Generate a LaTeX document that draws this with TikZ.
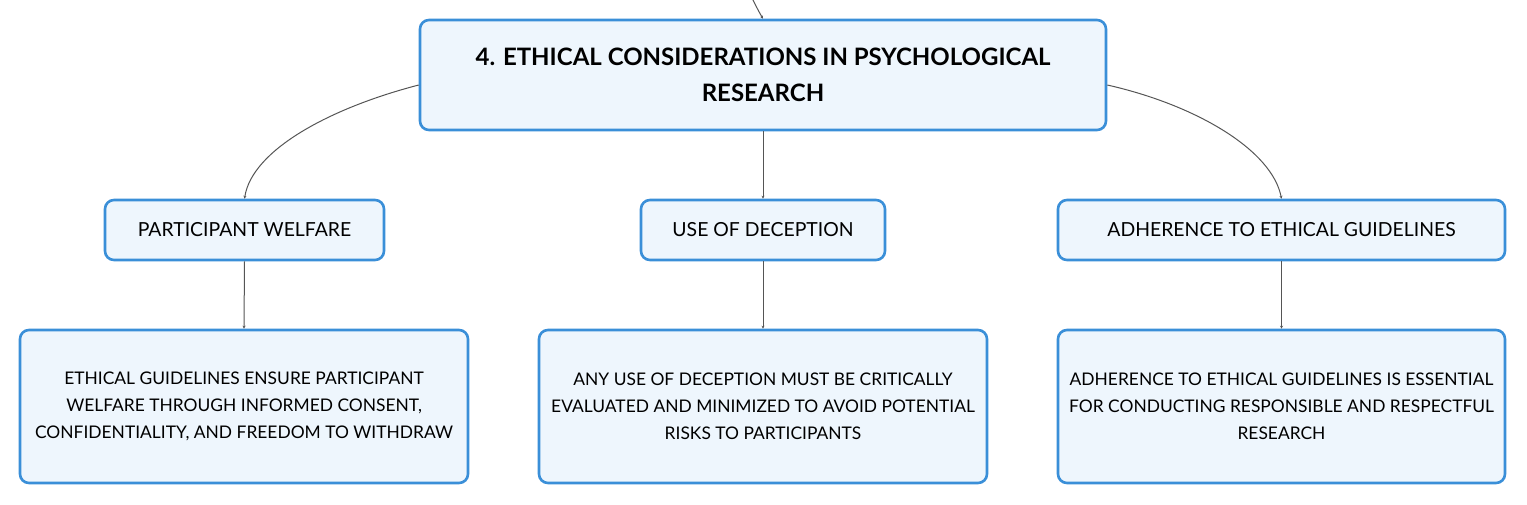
\documentclass[tikz,border=0pt]{standalone}
\usepackage{fontspec}
\setmainfont{Lato}
\usetikzlibrary{arrows.meta}
\definecolor{bordc}{HTML}{3A8FD8}
\definecolor{fillc}{HTML}{EEF6FD}
\definecolor{linec}{HTML}{555555}
\begin{document}
\begin{tikzpicture}[x=1pt,y=-1pt,
  box/.style={draw=bordc,fill=fillc,line width=2.6pt,rounded corners=9pt,inner sep=0pt,align=center,text=black},
  conn/.style={draw=linec,line width=1pt,-{Stealth[length=3pt,width=3pt]}}]
\useasboundingbox (0,0) rectangle (1527,504);
\node[box,minimum width=686pt,minimum height=110pt,font=\fontsize{24}{36}\selectfont\bfseries] (root) at (763,75)
  {4. ETHICAL CONSIDERATIONS IN PSYCHOLOGICAL\\RESEARCH};
\node[box,minimum width=279pt,minimum height=60pt,font=\fontsize{19.4}{22}\selectfont] (pw) at (244.5,230) {PARTICIPANT WELFARE};
\node[box,minimum width=244pt,minimum height=60pt,font=\fontsize{19.4}{22}\selectfont] (ud) at (763,230) {USE OF DECEPTION};
\node[box,minimum width=447pt,minimum height=60pt,font=\fontsize{19.4}{22}\selectfont] (ae) at (1281.5,230) {ADHERENCE TO ETHICAL GUIDELINES};
\node[box,minimum width=448pt,minimum height=153pt,font=\fontsize{17.4}{27}\selectfont] (pwd) at (244,406.5)
  {ETHICAL GUIDELINES ENSURE PARTICIPANT\\WELFARE THROUGH INFORMED CONSENT,\\CONFIDENTIALITY, AND FREEDOM TO WITHDRAW};
\node[box,minimum width=448pt,minimum height=153pt,font=\fontsize{17.4}{27}\selectfont] (udd) at (763,406.5)
  {ANY USE OF DECEPTION MUST BE CRITICALLY\\EVALUATED AND MINIMIZED TO AVOID POTENTIAL\\RISKS TO PARTICIPANTS};
\node[box,minimum width=447pt,minimum height=153pt,font=\fontsize{17.4}{27}\selectfont] (aed) at (1281.5,406.5)
  {ADHERENCE TO ETHICAL GUIDELINES IS ESSENTIAL\\FOR CONDUCTING RESPONSIBLE AND RESPECTFUL\\RESEARCH};
\coordinate (top) at (752,-2);
\draw[conn] (top) .. controls (756,6) and (759,12) .. (root.north);
\draw[conn] ([yshift=-10pt]root.west) .. controls (330,108) and (252,150) .. (pw.north);
\draw[conn] (root.south) -- (ud.north);
\draw[conn] ([yshift=-10pt]root.east) .. controls (1196,105) and (1272,150) .. (ae.north);
\draw[conn] (pw.south) -- (pwd.north);
\draw[conn] (ud.south) -- (udd.north);
\draw[conn] (ae.south) -- (aed.north);
\end{tikzpicture}
\end{document}
